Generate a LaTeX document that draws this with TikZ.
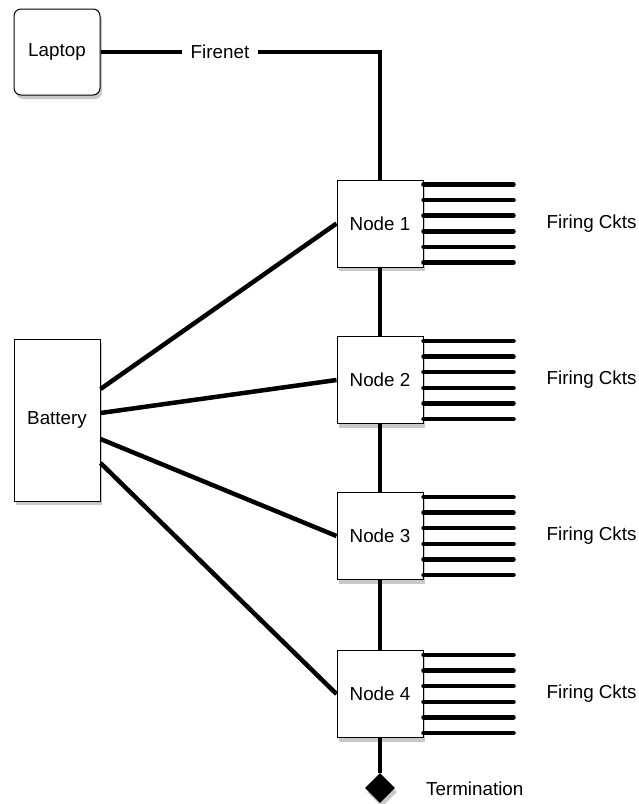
\documentclass[tikz,border=0pt]{standalone}
\usepackage{fontspec}
\setmainfont{Liberation Sans}
\usetikzlibrary{shadows,shapes.geometric}
\begin{document}
\begin{tikzpicture}[x=1pt,y=-1pt,
  font=\fontsize{18.8}{22}\selectfont,
  shad/.style={drop shadow={shadow xshift=2pt,shadow yshift=-4pt,opacity=0.3,fill=black!70}},
  box/.style={draw=black,line width=1pt,fill=white,shad,inner sep=0pt},
  nodebox/.style={box,minimum width=86pt,minimum height=87pt},
  wire/.style={line width=4.5pt},
  ckt/.style={line width=4.5pt,line cap=round},
  lbl/.style={anchor=west,inner sep=0pt}]
\useasboundingbox (0,0) rectangle (638,804);

\node[box,rounded corners=7pt,minimum width=86pt,minimum height=86pt] (lap) at (57,52) {Laptop};
\node[box,minimum width=86pt,minimum height=162pt] (bat) at (57,420) {Battery};

\node[nodebox] (n1) at (380,223.5) {Node 1};
\node[nodebox] (n2) at (380,380) {Node 2};
\node[nodebox] (n3) at (380,536) {Node 3};
\node[nodebox] (n4) at (380,694) {Node 4};

\node[diamond,fill=black,inner sep=0pt,minimum width=30pt,minimum height=30pt,shad] (term) at (380,788) {};
\node[lbl] (termlbl) at (426,789) {Termination};

% Firenet
\node[fill=white,inner sep=0pt,minimum width=76pt,minimum height=14pt] (fn) at (220,52) {Firenet};
\coordinate (corner) at (380,52);
\draw[wire] (lap.east) -- (fn.west);
\draw[wire] (fn.east) -- (corner) -- (n1.north);

% chain
\draw[wire] (n1.south) -- (n2.north);
\draw[wire] (n2.south) -- (n3.north);
\draw[wire] (n3.south) -- (n4.north);
\draw[wire] (n4.south) -- (term.north);

% battery
\draw[wire] ([yshift=31pt]bat.east) -- (n1.west);
\draw[wire] ([yshift=7pt]bat.east) -- (n2.west);
\draw[wire] ([yshift=-19pt]bat.east) -- (n3.west);
\draw[wire] ([yshift=-43pt]bat.east) -- (n4.west);

% firing circuits
\foreach \n/\k in {n1/1,n2/2,n3/3,n4/4}{
  \foreach \o in {-39,-23.4,-7.8,7.8,23.4,39}{
    \draw[ckt] ([yshift=\o pt]\n.east) -- ++(90,0);
  }
  \node[lbl] (fc\k) at ([xshift=123pt]\n.east) {Firing Ckts};
}
\end{tikzpicture}
\end{document}
